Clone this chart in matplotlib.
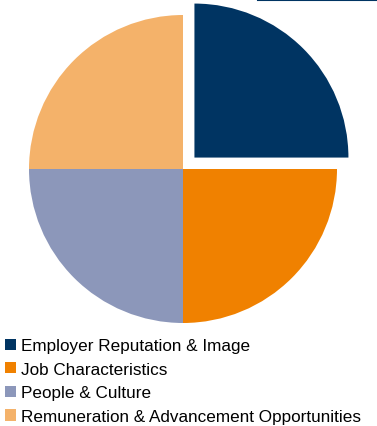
import matplotlib
matplotlib.use('Agg')
import matplotlib.pyplot as plt
from matplotlib.lines import Line2D

plt.rcParams['font.family'] = ['Liberation Sans', 'DejaVu Sans']

# Data
categories = ['Employer Reputation & Image', 'Job Characteristics',
              'People & Culture', 'Remuneration & Advancement Opportunities']
shares = [25, 25, 25, 25]
colors = ['#003462', '#F08100', '#8C97BA', '#F4B26A']
explode = [0.105, 0, 0, 0]

W, H = 377, 427
fig = plt.figure(figsize=(W / 100, H / 100), dpi=100)

# pie: centre at (183, 170) px from top-left, radius 154 px
cx, cy, r = 183, 170, 154
ax = fig.add_axes([(cx - r) / W, (H - cy - r) / H, 2 * r / W, 2 * r / H])
wedges, _ = ax.pie(shares, colors=colors, explode=explode, startangle=90,
                   counterclock=False, radius=1,
                   wedgeprops=dict(linewidth=0))
ax.set_xlim(-1, 1)
ax.set_ylim(-1, 1)
ax.set_aspect('auto')
ax.axis('off')
for w in wedges:
    w.set_clip_on(False)

# legend
fig.legend(wedges, categories, loc='upper left', bbox_to_anchor=(2 / W, 1 - 336 / H),
           frameon=False, fontsize=12.3, handlelength=0.62, handleheight=0.62,
           handletextpad=0.3, labelspacing=0.5, borderpad=0.2,
           borderaxespad=0.0)

# thin rule at top right
fig.add_artist(Line2D([258 / W, 1.0], [1 - 1 / H, 1 - 1 / H], color='#003462',
                      linewidth=1.5, transform=fig.transFigure))

fig.savefig('out.png', dpi=100)
